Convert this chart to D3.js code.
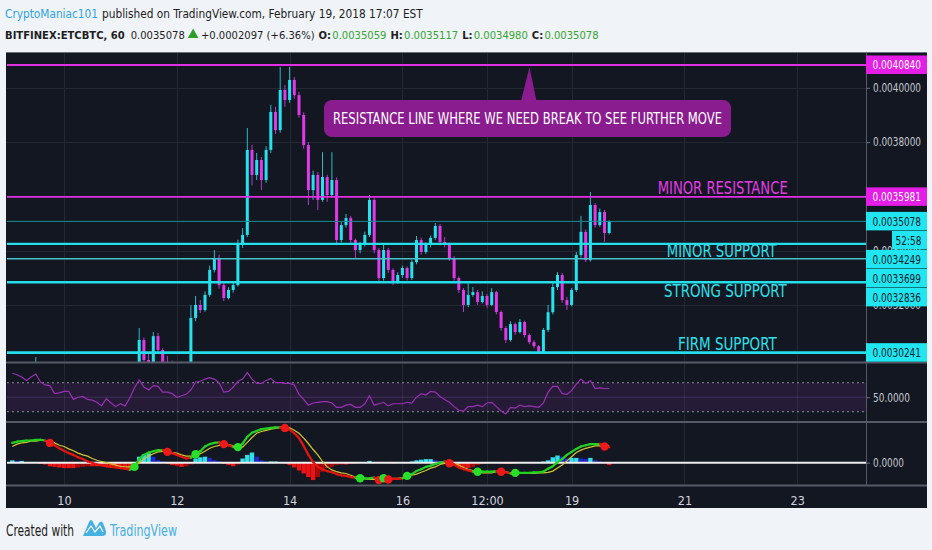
<!DOCTYPE html>
<html><head><meta charset="utf-8">
<script src="https://cdn.jsdelivr.net/npm/d3@7"></script>
<style>
html,body{margin:0;padding:0;background:#f0f3f7;}
svg{display:block;}
</style></head><body>
<script>
// ---------------- DATA ----------------
const firstCandleUTC = Date.UTC(2018, 1, 9, 2, 0); // first candle time
const stepHours = 2;
const opens = [
0.002925,0.002935,0.002948,0.002955,0.002962,0.002970,0.002975,0.002968,0.002955,0.002950,
0.002940,0.002932,0.002925,0.002930,0.002922,0.002915,0.002920,0.002912,0.002918,0.002925,
0.002920,0.002930,0.002935,0.002940,0.002945,0.002950,0.002962,0.002958,0.003071,0.002997,
0.002980,0.003085,0.003034,0.002990,0.002975,0.002965,0.002960,0.002955,0.002958,0.003152,
0.003200,0.003181,0.003237,0.003329,0.003373,0.003273,0.003225,0.003255,0.003273,0.003421,
0.003458,0.003771,0.003679,0.003734,0.003660,0.003771,0.003911,0.003844,0.003992,0.003955,
0.004029,0.003973,0.003900,0.003789,0.003623,0.003679,0.003587,0.003671,0.003605,0.003660,
0.003439,0.003494,0.003520,0.003439,0.003402,0.003421,0.003458,0.003587,0.003402,0.003299,
0.003402,0.003329,0.003284,0.003310,0.003336,0.003299,0.003358,0.003439,0.003395,0.003421,
0.003447,0.003491,0.003432,0.003424,0.003373,0.003299,0.003255,0.003200,0.003237,0.003247,
0.003211,0.003233,0.003200,0.003247,0.003174,0.003115,0.003071,0.003129,0.003100,0.003137,
0.003089,0.003063,0.003048,0.003026,0.003108,0.003173,0.003266,0.003310,0.003218,0.003200,
0.003255,0.003384,0.003469,0.003365,0.003568,0.003494,0.003542,0.003465];
const highs = [
0.002945,0.002955,0.002962,0.002970,0.002978,0.003008,0.002990,0.002972,0.002960,0.002955,
0.002945,0.002938,0.002936,0.002934,0.002926,0.002925,0.002924,0.002923,0.002932,0.002930,
0.002936,0.002942,0.002946,0.002952,0.002958,0.002970,0.002975,0.003115,0.003080,0.003026,
0.003100,0.003097,0.003040,0.003012,0.002995,0.002985,0.002992,0.002970,0.003200,0.003233,
0.003218,0.003250,0.003345,0.003402,0.003385,0.003280,0.003265,0.003285,0.003440,0.003483,
0.003852,0.003790,0.003760,0.003745,0.003785,0.003937,0.003930,0.004077,0.004010,0.004077,
0.004040,0.003985,0.003910,0.003800,0.003695,0.003690,0.003763,0.003680,0.003763,0.003670,
0.003505,0.003535,0.003528,0.003445,0.003432,0.003470,0.003605,0.003595,0.003410,0.003428,
0.003410,0.003335,0.003320,0.003345,0.003342,0.003365,0.003454,0.003448,0.003430,0.003456,
0.003502,0.003498,0.003450,0.003430,0.003380,0.003305,0.003262,0.003280,0.003266,0.003255,
0.003250,0.003240,0.003262,0.003252,0.003180,0.003122,0.003140,0.003135,0.003148,0.003142,
0.003095,0.003070,0.003052,0.003115,0.003200,0.003280,0.003321,0.003318,0.003230,0.003262,
0.003395,0.003528,0.003478,0.003616,0.003575,0.003555,0.003550,0.003512];
const lows = [
0.002918,0.002930,0.002942,0.002950,0.002958,0.002965,0.002960,0.002950,0.002942,0.002935,
0.002925,0.002918,0.002920,0.002915,0.002908,0.002910,0.002905,0.002908,0.002914,0.002914,
0.002916,0.002925,0.002930,0.002935,0.002940,0.002945,0.002950,0.002955,0.002985,0.002970,
0.002975,0.003025,0.002980,0.002965,0.002955,0.002950,0.002945,0.002948,0.002955,0.003140,
0.003170,0.003175,0.003230,0.003320,0.003260,0.003214,0.003220,0.003245,0.003268,0.003410,
0.003450,0.003640,0.003660,0.003623,0.003650,0.003760,0.003830,0.003835,0.003930,0.003945,
0.003960,0.003890,0.003775,0.003568,0.003587,0.003550,0.003580,0.003580,0.003595,0.003420,
0.003430,0.003485,0.003425,0.003373,0.003390,0.003415,0.003450,0.003390,0.003281,0.003290,
0.003318,0.003273,0.003278,0.003300,0.003290,0.003292,0.003350,0.003385,0.003388,0.003412,
0.003440,0.003420,0.003412,0.003362,0.003290,0.003244,0.003174,0.003192,0.003230,0.003200,
0.003205,0.003190,0.003195,0.003165,0.003105,0.003060,0.003065,0.003090,0.003095,0.003080,
0.003055,0.003040,0.003022,0.003024,0.003100,0.003165,0.003255,0.003208,0.003181,0.003195,
0.003248,0.003375,0.003358,0.003360,0.003485,0.003488,0.003432,0.003460];
const closes = [
0.002935,0.002948,0.002955,0.002962,0.002970,0.002975,0.002968,0.002955,0.002950,0.002940,
0.002932,0.002925,0.002930,0.002922,0.002915,0.002920,0.002912,0.002918,0.002925,0.002920,
0.002930,0.002935,0.002940,0.002945,0.002950,0.002962,0.002958,0.003071,0.002997,0.002980,
0.003085,0.003034,0.002990,0.002975,0.002965,0.002960,0.002955,0.002958,0.003152,0.003200,
0.003181,0.003237,0.003329,0.003373,0.003273,0.003225,0.003255,0.003273,0.003421,0.003458,
0.003771,0.003679,0.003734,0.003660,0.003771,0.003911,0.003844,0.003992,0.003955,0.004029,
0.003973,0.003900,0.003789,0.003623,0.003679,0.003587,0.003671,0.003605,0.003660,0.003439,
0.003494,0.003520,0.003439,0.003402,0.003421,0.003458,0.003587,0.003402,0.003299,0.003402,
0.003329,0.003284,0.003310,0.003336,0.003299,0.003358,0.003439,0.003395,0.003421,0.003447,
0.003491,0.003432,0.003424,0.003373,0.003299,0.003255,0.003200,0.003237,0.003247,0.003211,
0.003233,0.003200,0.003247,0.003174,0.003115,0.003071,0.003129,0.003100,0.003137,0.003089,
0.003063,0.003048,0.003026,0.003108,0.003173,0.003266,0.003310,0.003218,0.003200,0.003255,
0.003384,0.003469,0.003365,0.003568,0.003494,0.003542,0.003465,0.003508];
const rsiValues = [
83,81,78,73,78,82,71,67,66,55, 56,58,58,47,50,51,47,46,43,38,
48,42,37,41,38,49,63,74,64,60, 66,65,57,57,55,50,52,54,60,71,
72,75,77,75,70,57,58,64,72,75, 84,75,69,69,73,76,70,70,69,69,
67,54,47,39,42,43,44,44,42,36, 36,39,40,36,36,41,52,39,41,43,
38,41,41,41,43,42,50,55,53,58, 57,51,47,43,37,32,31,37,37,39,
37,42,43,37,31,27,36,35,39,37, 38,37,36,42,57,65,65,55,54,59,
68,75,69,73,62,63,62,62];
// MACD values in units of 1e-6 BTC
const macdLine = [
33,35,36,37,37,38,38,37,33,29, 24,20,16,13,9,6,2,0,-3,-4,
-6,-7,-8,-9,-10,-12,-7,6,13,17, 19,21,21,18,16,13,10,7,8,14,
19,27,31,33,34,31,29,26,26,32, 43,50,53,56,57,58,59,59,58,55,
49,41,28,13,1,-7,-11,-14,-16,-19, -21,-22,-24,-25,-26,-26,-26,-25,-29,-26,
-28,-27,-27,-26,-22,-19,-14,-11,-7,-5, -2,0,2,-1,-3,-8,-11,-13,-15,-15,
-15,-15,-15,-14,-15,-16,-18,-17,-17,-17, -17,-16,-16,-15,-10,-6,1,6,13,18,
23,27,29,31,31,31,27,26];
const signalLine = [
27,31,33,34,36,36,37,37,36,33, 29,27,23,20,16,13,11,7,4,2,
0,-2,-4,-6,-7,-7,-8,0,6,11, 15,18,19,19,17,16,13,11,11,11,
15,19,24,27,29,32,30,28,24,26, 34,42,49,52,54,56,57,59,59,58,
54,49,41,32,22,13,2,-7,-12,-15, -17,-18,-21,-24,-26,-27,-28,-28,-28,-27,
-27,-26,-26,-25,-23,-21,-19,-16,-13,-9, -7,-3,-1,0,-2,-4,-8,-11,-13,-16,
-17,-17,-17,-15,-14,-15,-17,-18,-18,-18, -18,-18,-17,-17,-16,-14,-9,-4,3,10,
17,21,24,26,28,28,28,28];
const histValues = [
4,3,3,1,1,0.5,-2,-3,-6,-7, -8,-9,-9,-9,-8,-7,-6,-6,-6,-6,
-7,-7,-8,-9,-11,-12,-4,10,14,16, 10,4,2,-2,-4,-5,-7,-6,-3,7,
9,10,8,4,2,-2,-4,-6,-3,7, 13,17,10,4,2,2,2,1,-1,-4,
-8,-13,-18,-24,-29,-24,-15,-9,-7,-4, -3,-3,-2,-1,-0.5,0.5,3,1,-0.5,0.5,
-0.5,-1,-0.5,0,0.5,2,4,5,6,6, 4,3,0,-3,-5,-7,-8,-9,-7,-4,
-2,-1,0.5,1,-1,-2,-2,-1,0,0.5, 0.5,0.5,1,2,4,9,12,10,7,8,
8,7,6,8,4,2,-1,-4];

const priceTickValues = [0.0040, 0.0038, 0.0036, 0.0034, 0.0032];
const hiddenPriceTickLabels = [0.0036]; // fully covered by a level label
const timeTickDates = ['2018-02-10T00:00Z','2018-02-12T00:00Z','2018-02-14T00:00Z','2018-02-16T00:00Z','2018-02-17T12:00Z','2018-02-19T00:00Z','2018-02-21T00:00Z','2018-02-23T00:00Z'];
const timeTickLabels = ['10','12','14','16','12:00','19','21','23'];
const levelPrices = [0.0040840, 0.0035981, 0.0035078, 0.0034249, 0.0033699, 0.0032836, 0.0030241];
const levelKinds = ['res','res','last','sup','sup2','sup','sup'];
const annotationTexts = ['MINOR RESISTANCE','MINOR SUPPORT','STRONG SUPPORT','FIRM SUPPORT'];
const calloutText = 'RESISTANCE LINE WHERE WE NEED BREAK TO SEE FURTHER MOVE';
const countdownText = '52:58';
const rsiLevels = [70, 50, 30];
const headerLine1 = ['CryptoManiac101', 'published on TradingView.com, February 19, 2018 17:07 EST'];
const headerSymbol = 'BITFINEX:ETCBTC, 60';
const headerLast = '0.0035078';
const headerChange = '+0.0002097 (+6.36%)';
const ohlcKeys = ['O:', 'H:', 'L:', 'C:'];
const ohlcValues = ['0.0035059', '0.0035117', '0.0034980', '0.0035078'];

// ---------------- LAYOUT ----------------
const W = 932, H = 550;
const FONT = '"Liberation Sans Narrow","DejaVu Sans Condensed","Liberation Sans",sans-serif';
const P = {left: 7, right: 866, top: 52, bottom: 362};
const R = {top: 363, bottom: 421};
const M = {top: 423, bottom: 485};

const svg = d3.select('body').append('svg').attr('width', W).attr('height', H)
  .style('font-family', FONT);
svg.append('rect').attr('width', W).attr('height', H).attr('fill', '#f0f3f7');

// flowing text line: segments are measured, then a common font size is chosen so the line spans [x0, x1]
function flowLine(g, segs, x0, x1, y, base) {
  const els = segs.map(s => s.tri ? null : g.append('text').attr('y', y).text(s.t)
    .attr('fill', s.fill).attr('font-weight', s.bold ? 700 : 400).attr('font-size', base));
  let natural = 0, gaps = 0;
  segs.forEach((s, i) => { gaps += s.gap || 0; if (els[i]) natural += els[i].node().getComputedTextLength(); else gaps += s.w; });
  const k = (x1 - x0 - gaps) / natural;
  const size = base * k;
  let cx = x0;
  segs.forEach((s, i) => {
    cx += s.gap || 0;
    if (s.tri) {
      g.append('path').attr('d', `M${cx},${y - 0.5} L${cx + s.w / 2},${y - 10} L${cx + s.w},${y - 0.5} Z`).attr('fill', s.fill);
      cx += s.w;
    } else {
      els[i].attr('font-size', size).attr('x', cx);
      cx += els[i].node().getComputedTextLength();
    }
  });
}
const hdr = svg.append('g');
const dark = '#1e1e1e', green = '#33a532';
flowLine(hdr, [
  {t: headerLine1[0], fill: '#2ea3e0'},
  {t: headerLine1[1], fill: dark, gap: 4}
], 5, 423, 18, 14);
const line2 = [
  {t: headerSymbol, fill: dark, bold: true},
  {t: headerLast, fill: dark, gap: 6},
  {tri: true, w: 10.6, fill: '#2b9f2b', gap: 3},
  {t: headerChange, fill: dark, gap: 2.5}
];
ohlcKeys.forEach((key, i) => {
  line2.push({t: key, fill: dark, bold: true, gap: 4});
  line2.push({t: ohlcValues[i], fill: green, gap: 1.2});
});
flowLine(hdr, line2, 5, 599, 38.5, 14);

// chart background
svg.append('rect').attr('x', 6).attr('y', 52).attr('width', 921).attr('height', 456).attr('fill', '#131722');

// scales
const x = d3.scaleUtc().domain([new Date(Date.UTC(2018,1,9)), new Date(Date.UTC(2018,1,24))]).range([7.6, 853.6]);
const yP = d3.scaleLinear().domain([0.0029897, 0.0041319]).range([P.bottom, P.top]);
const yR = d3.scaleLinear().domain([17.2, 97.2]).range([R.bottom, R.top]);
const yM = d3.scaleLinear().domain([-37.2, 66.2]).range([M.bottom, M.top]);
const times = closes.map((_, i) => new Date(firstCandleUTC + i * stepHours * 3600e3));
const tickDates = timeTickDates.map(s => new Date(s));

// grid
const grid = svg.append('g').attr('stroke', '#242833').attr('stroke-width', 1);
priceTickValues.forEach(v => grid.append('line').attr('x1', P.left).attr('x2', P.right)
  .attr('y1', Math.round(yP(v)) + 0.5).attr('y2', Math.round(yP(v)) + 0.5));
tickDates.forEach(d => grid.append('line').attr('x1', Math.round(x(d)) + 0.5).attr('x2', Math.round(x(d)) + 0.5)
  .attr('y1', P.top).attr('y2', M.bottom));

// clip price pane
const defs = svg.append('defs');
defs.append('clipPath').attr('id', 'pclip').append('rect')
  .attr('x', P.left).attr('y', P.top).attr('width', P.right - P.left).attr('height', P.bottom - P.top);

// candles
const UP = '#24e3ee', DOWN = '#e03ae8';
const cg = svg.append('g').attr('clip-path', 'url(#pclip)');
const candles = cg.selectAll('g.c').data(closes.map((c, i) => i)).join('g').attr('class', 'c');
candles.append('line')
  .attr('x1', i => x(times[i])).attr('x2', i => x(times[i]))
  .attr('y1', i => yP(highs[i])).attr('y2', i => yP(lows[i]))
  .attr('stroke', i => closes[i] >= opens[i] ? '#2fb9c4' : '#b03cc2').attr('stroke-width', 1);
candles.append('rect')
  .attr('x', i => x(times[i]) - 1.5).attr('width', 3)
  .attr('y', i => yP(Math.max(opens[i], closes[i])))
  .attr('height', i => Math.max(1, Math.abs(yP(opens[i]) - yP(closes[i]))))
  .attr('fill', i => closes[i] >= opens[i] ? UP : DOWN);

// level lines
const levelStyle = {
  res: {stroke: '#e22fe6', w: 1.6},
  last: {stroke: '#1d8c94', w: 1},
  sup: {stroke: '#22dfea', w: 2.2},
  sup2: {stroke: '#45c4cc', w: 1.6}
};
const lg = svg.append('g');
levelPrices.forEach((p, i) => {
  const st = levelStyle[levelKinds[i]];
  lg.append('line').attr('x1', P.left).attr('x2', P.right).attr('y1', yP(p)).attr('y2', yP(p))
    .attr('stroke', st.stroke).attr('stroke-width', i === 0 ? 2 : (i >= 5 ? 2.6 : st.w));
});

// annotations
const ann = [
  {t: annotationTexts[0], x: 657.7, y: 193.5, len: 130, fill: '#e33be6'},
  {t: annotationTexts[1], x: 666.7, y: 256.5, len: 110, fill: '#2ee0ea'},
  {t: annotationTexts[2], x: 664, y: 297, len: 122.7, fill: '#2ee0ea'},
  {t: annotationTexts[3], x: 678, y: 349.5, len: 98.7, fill: '#2ee0ea'}
];
ann.forEach(a => svg.append('text').attr('x', a.x).attr('y', a.y).text(a.t)
  .attr('font-size', 17).attr('fill', a.fill)
  .attr('textLength', a.len).attr('lengthAdjust', 'spacingAndGlyphs'));

// callout
const callFill = '#8a1c8f';
svg.append('path').attr('d', `M521,101 L529.5,${yP(levelPrices[0]) + 2} L536.5,101 Z`).attr('fill', callFill);
svg.append('rect').attr('x', 324).attr('y', 100).attr('width', 407).attr('height', 37).attr('rx', 8).attr('fill', callFill);
svg.append('text').attr('x', 333).attr('y', 123.5).text(calloutText)
  .attr('font-size', 15).attr('fill', '#ffffff')
  .attr('textLength', 389).attr('lengthAdjust', 'spacingAndGlyphs');

// RSI pane
const rg = svg.append('g');
rg.append('rect').attr('x', P.left).attr('width', P.right - P.left)
  .attr('y', yR(rsiLevels[0])).attr('height', yR(rsiLevels[2]) - yR(rsiLevels[0]))
  .attr('fill', 'rgba(150,60,185,0.14)');
[rsiLevels[0], rsiLevels[2]].forEach(v => rg.append('line').attr('x1', P.left).attr('x2', P.right)
  .attr('y1', yR(v)).attr('y2', yR(v)).attr('stroke', '#8a8d96').attr('stroke-dasharray', '2,3').attr('stroke-width', 1));
rg.append('line').attr('x1', P.left).attr('x2', P.right).attr('y1', yR(rsiLevels[1])).attr('y2', yR(rsiLevels[1]))
  .attr('stroke', 'rgba(140,110,170,0.25)').attr('stroke-width', 1);
rg.append('path').datum(rsiValues)
  .attr('d', d3.line().x((d, i) => x(times[i])).y(d => yR(d)))
  .attr('fill', 'none').attr('stroke', '#9a2fb5').attr('stroke-width', 1.2);

// MACD pane
const mg = svg.append('g');
mg.selectAll('rect.h').data(histValues).join('rect').attr('class', 'h')
  .attr('x', (d, i) => x(times[i]) - 2.2).attr('width', 4.4)
  .attr('y', d => Math.min(yM(d), yM(0))).attr('height', d => Math.abs(yM(d) - yM(0)))
  .attr('fill', (d, i) => {
    const prev = i > 0 ? histValues[i - 1] : d;
    if (d >= 0) return d >= prev ? '#35dde8' : '#1f24d4';
    return d <= prev ? '#f01212' : '#a80808';
  });
mg.append('line').attr('x1', P.left).attr('x2', P.right).attr('y1', yM(0)).attr('y2', yM(0))
  .attr('stroke', '#eeeeee').attr('stroke-width', 2);
mg.append('path').datum(signalLine)
  .attr('d', d3.line().x((d, i) => x(times[i])).y(d => yM(d)))
  .attr('fill', 'none').attr('stroke', '#d2c530').attr('stroke-width', 1.2);
for (let i = 1; i < macdLine.length; i++) {
  const up = macdLine[i] >= signalLine[i];
  mg.append('line').attr('x1', x(times[i - 1])).attr('x2', x(times[i]))
    .attr('y1', yM(macdLine[i - 1])).attr('y2', yM(macdLine[i]))
    .attr('stroke', up ? '#21d321' : '#e3160f').attr('stroke-width', 2.2).attr('stroke-linecap', 'round');
}
for (let i = 1; i < macdLine.length; i++) {
  const up = macdLine[i] >= signalLine[i], wasUp = macdLine[i - 1] >= signalLine[i - 1];
  if (up !== wasUp) {
    mg.append('circle').attr('cx', x(times[i])).attr('cy', yM(macdLine[i])).attr('r', 4.2)
      .attr('fill', up ? '#28e028' : '#ee1a1a');
  }
}

// separators
const sep = svg.append('g').attr('stroke', '#555a66');
[362.5, 422, 485.5].forEach(y => sep.append('line').attr('x1', 6).attr('x2', 927).attr('y1', y).attr('y2', y).attr('stroke-width', 2));
sep.append('line').attr('x1', 866.5).attr('x2', 866.5).attr('y1', 52).attr('y2', 485).attr('stroke-width', 1);
svg.append('line').attr('x1', 6).attr('x2', 927).attr('y1', 52.5).attr('y2', 52.5).attr('stroke', '#6a6e78');

// price axis tick labels
const axG = svg.append('g').attr('transform', `translate(${P.right},0)`)
  .call(d3.axisRight(yP).tickValues(priceTickValues)
    .tickFormat(d => hiddenPriceTickLabels.includes(d) ? '' : d3.format('.7f')(d)).tickSize(4));
const rsiAx = svg.append('g').attr('transform', `translate(${P.right},0)`)
  .call(d3.axisRight(yR).tickValues([rsiLevels[1]]).tickFormat(d3.format('.4f')).tickSize(4));
const macdAx = svg.append('g').attr('transform', `translate(${P.right},0)`)
  .call(d3.axisRight(yM).tickValues([0]).tickFormat(d3.format('.4f')).tickSize(4));
[axG, rsiAx, macdAx].forEach(g => {
  g.select('.domain').remove();
  g.selectAll('line').attr('stroke', '#6b6f7a');
  g.selectAll('text').attr('fill', '#c4c7cf').attr('font-size', 12).attr('font-family', FONT).attr('dx', 0);
});
axG.selectAll('text').filter(function () { return this.textContent !== ''; })
  .attr('textLength', 48).attr('lengthAdjust', 'spacingAndGlyphs');
rsiAx.selectAll('text').attr('textLength', 37).attr('lengthAdjust', 'spacingAndGlyphs');
macdAx.selectAll('text').attr('textLength', 31).attr('lengthAdjust', 'spacingAndGlyphs');

// level labels on the axis (pushed apart like the platform does)
const labG = svg.append('g');
const order = levelPrices.map((p, i) => i).sort((a, b) => yP(levelPrices[a]) - yP(levelPrices[b]));
let lastBottom = -Infinity;
const BH = 19;
order.forEach(i => {
  let cy = Math.max(yP(levelPrices[i]), lastBottom + BH);
  const isRes = levelKinds[i] === 'res';
  labG.append('rect').attr('x', 866).attr('y', cy - BH / 2).attr('width', 61).attr('height', BH - 0.5)
    .attr('fill', isRes ? '#e41ee6' : '#1fe6f0');
  labG.append('text').attr('x', 872.5).attr('y', cy + 4.3).text(d3.format('.7f')(levelPrices[i]))
    .attr('font-size', 12).attr('fill', isRes ? '#ffffff' : '#10202c')
    .attr('textLength', 48.5).attr('lengthAdjust', 'spacingAndGlyphs');
  lastBottom = cy;
  if (levelKinds[i] === 'last') {
    const cd = cy + BH;
    labG.append('rect').attr('x', 892).attr('y', cd - BH / 2).attr('width', 35).attr('height', BH - 0.5).attr('fill', '#1fe6f0');
    labG.append('text').attr('x', 895.5).attr('y', cd + 4.3).text(countdownText)
      .attr('font-size', 12).attr('fill', '#10202c')
      .attr('textLength', 26).attr('lengthAdjust', 'spacingAndGlyphs');
    lastBottom = cd;
  }
});

// time axis
const xAx = svg.append('g').attr('transform', `translate(0,${M.bottom})`)
  .call(d3.axisBottom(x).tickValues(tickDates).tickFormat((d, i) => timeTickLabels[i]).tickSize(0).tickPadding(11));
xAx.select('.domain').remove();
xAx.selectAll('text').attr('fill', '#d1d4dc').attr('font-size', 12.5).attr('font-family', FONT);

// footer
const ft = svg.append('g');
ft.append('text').attr('x', 6).attr('y', 535.5).text('Created with').attr('fill', '#1e1e1e').attr('font-size', 15)
  .attr('textLength', 68).attr('lengthAdjust', 'spacingAndGlyphs');
ft.append('path').attr('d', 'M83,536 L89,522 Q91,518 93,522 L96,528 L99,523 Q101,520 103,523 L106,531 Q107,536 102,536 Z')
  .attr('fill', '#45b0e2');
ft.append('path').attr('d', 'M86,533 L91,526 L95,532 L100,526 L103,532').attr('fill', 'none').attr('stroke', '#ffffff').attr('stroke-width', 1.2);
ft.append('text').attr('x', 110).attr('y', 535.5).text('TradingView').attr('fill', '#45b0e2').attr('font-size', 15)
  .attr('textLength', 67).attr('lengthAdjust', 'spacingAndGlyphs');
</script>
</body></html>
